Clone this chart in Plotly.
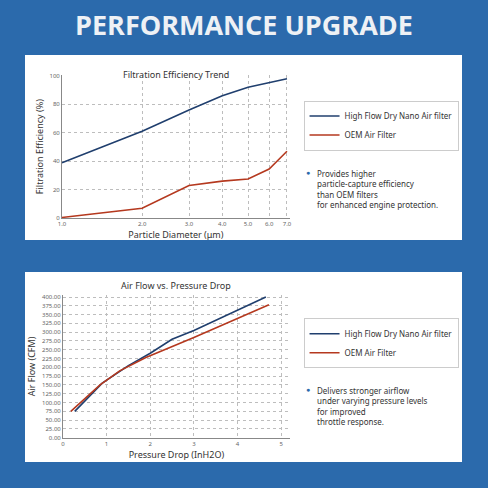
import plotly.graph_objects as go

# Filtration efficiency data
diameter = [1.0, 2.0, 3.0, 4.0, 5.0, 6.0, 7.0]
eff_nano = [39, 61, 76, 86, 92, 95.5, 98]
eff_oem = [0.5, 7, 23, 26, 27.5, 34.5, 47]
diam_ticks = [1, 2, 3, 4, 5, 6, 7]

# Air flow data
dp_nano = [0.27, 0.9, 1.5, 2.0, 2.5, 3.0, 4.65]
flow_nano = [75, 155, 205, 240, 280, 305, 400]
dp_oem = [0.18, 0.85, 1.3, 1.9, 3.0, 4.72]
flow_oem = [75, 150, 190, 228, 285, 378]

BLUE = "#203f6e"
RED = "#b5391f"
BG = "#2b6aac"
gridc = "#bdbdbd"

fig = go.Figure()
fig.add_trace(go.Scatter(x=diameter, y=eff_nano, mode="lines", line=dict(color=BLUE, width=1.6),
                         name="High Flow Dry Nano Air filter", xaxis="x", yaxis="y", legend="legend"))
fig.add_trace(go.Scatter(x=diameter, y=eff_oem, mode="lines", line=dict(color=RED, width=1.6),
                         name="OEM Air Filter", xaxis="x", yaxis="y", legend="legend"))
fig.add_trace(go.Scatter(x=dp_nano, y=flow_nano, mode="lines", line=dict(color=BLUE, width=1.6),
                         name="High Flow Dry Nano Air filter", xaxis="x2", yaxis="y2", legend="legend2"))
fig.add_trace(go.Scatter(x=dp_oem, y=flow_oem, mode="lines", line=dict(color=RED, width=1.6),
                         name="OEM Air Filter", xaxis="x2", yaxis="y2", legend="legend2"))

ax = dict(showgrid=True, gridcolor=gridc, griddash="dot", gridwidth=1, zeroline=False, automargin=False,
          showline=True, linecolor="#888", ticks="", tickfont=dict(size=6, color="#666"))

fig.update_layout(
    width=488, height=488, margin=dict(l=0, r=0, t=0, b=0),
    paper_bgcolor=BG, plot_bgcolor="white",
    font=dict(family="Noto Sans", color="#333"),
    xaxis=dict(ax, type="log", domain=[0.127, 0.594], range=[0, 0.856], tickvals=diam_ticks,
               tickformat=".1f", anchor="y",
               title=dict(text="Particle Diameter (μm)", font=dict(size=9), standoff=2)),
    yaxis=dict(ax, domain=[0.553, 0.846], range=[0, 100.5], dtick=20, anchor="x",
               title=dict(text="Filtration Efficiency (%)", font=dict(size=9), standoff=4)),
    xaxis2=dict(ax, domain=[0.129, 0.594], range=[0, 5.2], dtick=1, anchor="y2",
                title=dict(text="Pressure Drop (InH2O)", font=dict(size=9), standoff=2)),
    yaxis2=dict(ax, domain=[0.103, 0.395], range=[0, 405], dtick=25, tickformat=".2f", anchor="x2",
                title=dict(text="Air Flow (CFM)", font=dict(size=9), standoff=4)),
    legend=dict(x=0.622, y=0.794, xanchor="left", yanchor="top", bgcolor="white",
                bordercolor="#ccc", borderwidth=1, font=dict(size=8, color="#333"), tracegroupgap=0),
    legend2=dict(x=0.622, y=0.348, xanchor="left", yanchor="top", bgcolor="white",
                 bordercolor="#ccc", borderwidth=1, font=dict(size=8, color="#333"), tracegroupgap=0),
)

# white panels
for y0, y1 in [(248 / 488, 433 / 488), (26 / 488, 216 / 488)]:
    fig.add_shape(type="rect", xref="paper", yref="paper", x0=25 / 488, x1=462 / 488, y0=y0, y1=y1,
                  fillcolor="white", line=dict(width=0), layer="below")

fig.add_annotation(text="<b>PERFORMANCE UPGRADE</b>", x=0.5, y=0.949, xref="paper", yref="paper",
                   yanchor="middle", showarrow=False,
                   font=dict(size=27, color="#eef1f5", family="Open Sans"))
fig.add_annotation(text="Filtration Efficiency Trend", x=0.36, y=0.865, xref="paper", yref="paper",
                   showarrow=False, font=dict(size=9, color="#333"))
fig.add_annotation(text="Air Flow vs. Pressure Drop", x=0.36, y=0.414, xref="paper", yref="paper",
                   showarrow=False, font=dict(size=9, color="#333"))

bullets = [
    ("Provides higher<br>particle-capture efficiency<br>than OEM filters<br>for enhanced engine protection.", 0.66),
    ("Delivers stronger airflow<br>under varying pressure levels<br>for improved<br>throttle response.", 0.215),
]
for txt, yy in bullets:
    fig.add_annotation(text="●", x=0.622, y=yy, xref="paper", yref="paper", xanchor="left", yanchor="top",
                       showarrow=False, font=dict(size=7, color="#2b6aac"))
    fig.add_annotation(text=txt, x=0.645, y=yy, xref="paper", yref="paper", xanchor="left", yanchor="top",
                       align="left", showarrow=False, font=dict(size=8, color="#333"))

fig.write_html("out.html", config={"displayModeBar": False},
               post_script="document.body.style.margin='0';document.body.style.overflow='hidden';")
